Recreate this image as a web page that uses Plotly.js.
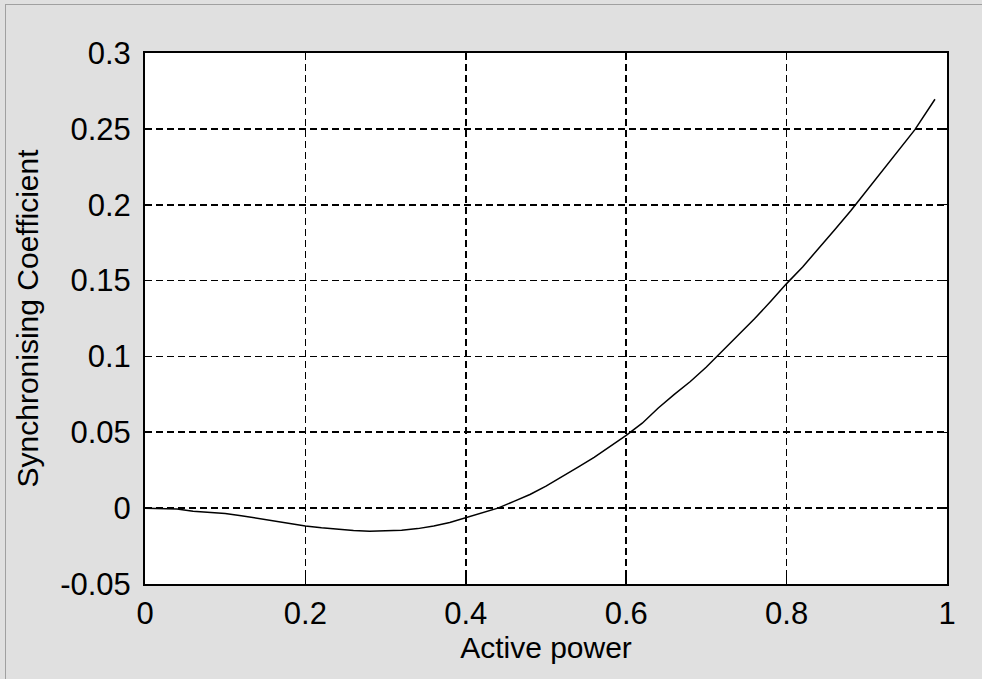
<!DOCTYPE html>
<html>
<head>
<meta charset="utf-8">
<script src="https://cdn.plot.ly/plotly-3.0.1.min.js"></script>
<style>
  html, body { margin: 0; padding: 0; background: #e0e0e0; }
  #wrap { position: relative; width: 982px; height: 679px; }
  #chart { width: 982px; height: 679px; }
  #frame { position: absolute; left: 5px; top: 4px; right: 0; bottom: 0;
           border-left: 1px solid #a0a0a0; border-top: 1px solid #a0a0a0;
           pointer-events: none; }
</style>
</head>
<body>
<div id="wrap"><div id="chart"></div><div id="frame"></div></div>
<script>
// Active power (x) and synchronising coefficient (y)
var activePower = [0, 0.04, 0.06, 0.08, 0.10, 0.12, 0.14, 0.16, 0.18, 0.20,
  0.22, 0.24, 0.26, 0.28, 0.30, 0.32, 0.34, 0.36, 0.38, 0.40,
  0.42, 0.44, 0.46, 0.48, 0.50, 0.52, 0.54, 0.56, 0.58, 0.60,
  0.62, 0.64, 0.66, 0.68, 0.70, 0.72, 0.74, 0.76, 0.78, 0.80,
  0.82, 0.84, 0.86, 0.88, 0.90, 0.92, 0.94, 0.96, 0.985];
var syncCoeff = [0, -0.0005, -0.002, -0.003, -0.0035, -0.005, -0.0068, -0.0085, -0.0102, -0.0118,
  -0.013, -0.014, -0.0148, -0.0153, -0.0152, -0.0146, -0.0135, -0.0118, -0.0095, -0.0062,
  -0.0033, 0.0, 0.0045, 0.009, 0.0145, 0.0205, 0.027, 0.0335, 0.0405, 0.048,
  0.056, 0.066, 0.075, 0.0835, 0.093, 0.1035, 0.1142, 0.1248, 0.1362, 0.148,
  0.159, 0.171, 0.1835, 0.196, 0.2095, 0.2225, 0.236, 0.2495, 0.2695];

var xTickVals = [0, 0.2, 0.4, 0.6, 0.8, 1];
var xTickText = ["0", "0.2", "0.4", "0.6", "0.8", "1"];
var yTickVals = [-0.05, 0, 0.05, 0.1, 0.15, 0.2, 0.25, 0.3];
var yTickText = ["-0.05", "0", "0.05", "0.1", "0.15", "0.2", "0.25", "0.3"];

var tickFont = {family: "Liberation Sans, Arial, sans-serif", size: 31, color: "#000"};
var titleFont = {family: "Liberation Sans, Arial, sans-serif", size: 30, color: "#000"};

var trace = {
  x: activePower, y: syncCoeff, type: "scatter", mode: "lines",
  line: {color: "#000", width: 1.5}, hoverinfo: "skip"
};

var axisCommon = {
  showline: true, linecolor: "#000", linewidth: 2, mirror: "ticks",
  ticks: "inside", ticklen: 7, tickwidth: 1.5, tickcolor: "#000",
  showgrid: true, gridcolor: "#000", gridwidth: 1.6, griddash: "7px,4px",
  zeroline: false, automargin: false, tickfont: tickFont, fixedrange: true
};

var layout = {
  width: 982, height: 679,
  margin: {l: 145, r: 35, t: 53, b: 95},
  paper_bgcolor: "#e0e0e0", plot_bgcolor: "#ffffff",
  showlegend: false,
  font: titleFont,
  xaxis: Object.assign({}, axisCommon, {
    range: [0, 1], tickmode: "array", tickvals: xTickVals, ticktext: xTickText,
    ticklabelstandoff: 1,
    title: {text: "Active power", font: titleFont, standoff: 3}
  }),
  yaxis: Object.assign({}, axisCommon, {
    range: [-0.05, 0.3], tickmode: "array", tickvals: yTickVals, ticktext: yTickText,
    ticklabelstandoff: 6,
    title: {text: "Synchronising Coefficient", font: titleFont, standoff: 13}
  })
};

Plotly.newPlot("chart", [trace], layout, {staticPlot: true, displayModeBar: false});
</script>
</body>
</html>
